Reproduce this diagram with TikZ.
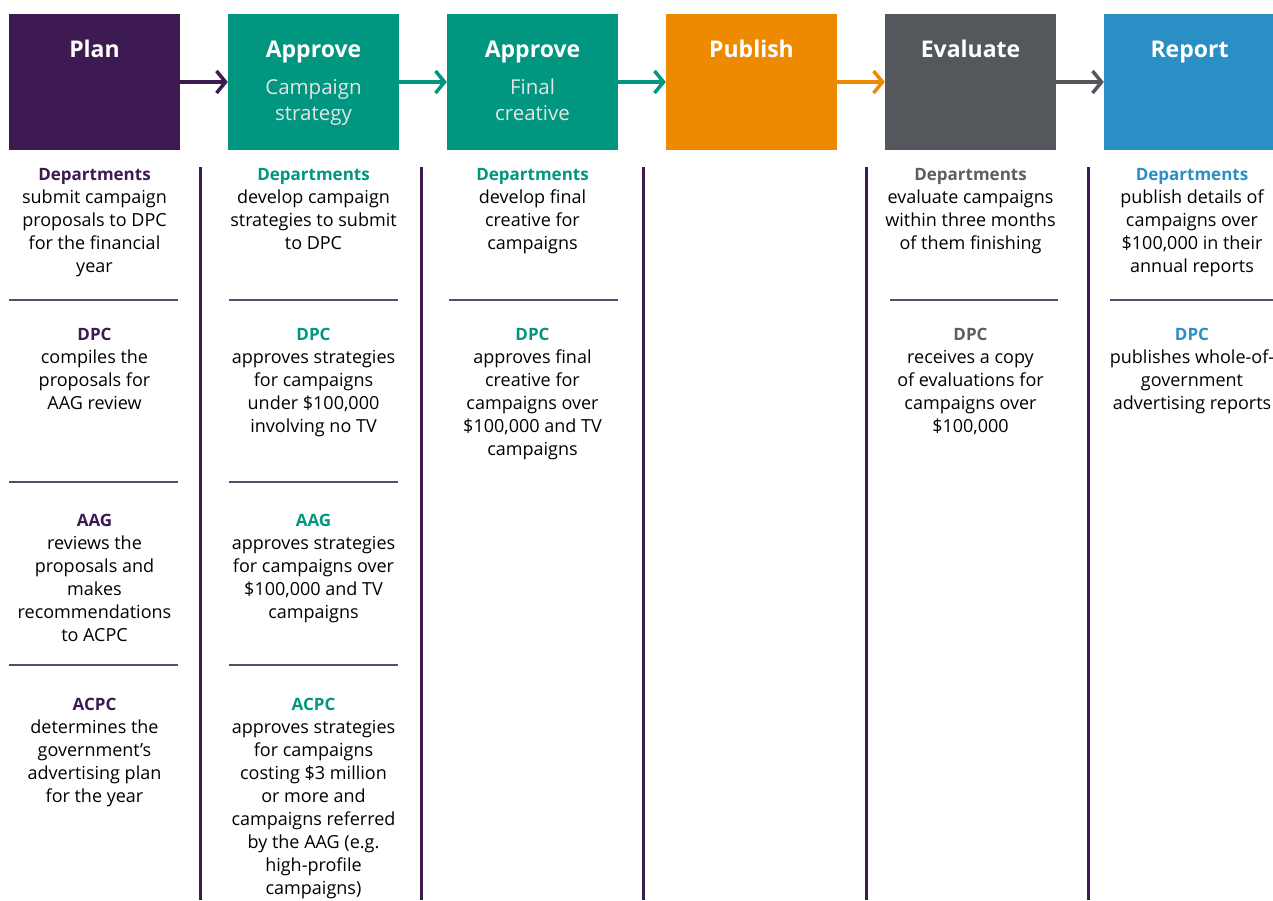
\documentclass[tikz,border=0pt]{standalone}
\usepackage{fontspec}
\setmainfont{Open Sans}
\usetikzlibrary{arrows.meta}

\definecolor{planpurple}{HTML}{3D1A51}
\definecolor{approvegreen}{HTML}{00967F}
\definecolor{publishorange}{HTML}{EE8A00}
\definecolor{evalgrey}{HTML}{54575B}
\definecolor{evaltext}{HTML}{5E5E5E}
\definecolor{reportblue}{HTML}{2A8FC4}
\definecolor{rulepurple}{HTML}{5A4A6C}

\newcommand{\head}[2]{{\color{#1}\fontsize{17}{23}\selectfont\bfseries #2}}

\tikzset{
  stage/.style={minimum width=171pt, minimum height=136pt, inner sep=0pt},
  stagetitle/.style={text=white, inner sep=0pt, anchor=base, font=\fontsize{23}{26}\selectfont\bfseries},
  stagesub/.style={text=white!90!black, inner sep=0pt, align=center, font=\fontsize{20.5}{26}\selectfont},
  flow/.style={line width=3.5pt, -{Straight Barb[length=9pt,width=22pt]}},
  note/.style={align=center, anchor=north, inner sep=0pt, font=\fontsize{18}{23}\selectfont},
  divider/.style={planpurple, line width=3pt},
  sectionrule/.style={rulepurple, line width=1.8pt},
}

\begin{document}
\begin{tikzpicture}[x=1pt,y=-1pt]
\useasboundingbox (0,0) rectangle (1273,900);

% stage boxes
\node[stage, fill=planpurple] (plan) at (94.5,82) {};
\node[stage, fill=approvegreen] (strategy) at (313.5,82) {};
\node[stage, fill=approvegreen] (creative) at (532.5,82) {};
\node[stage, fill=publishorange] (publish) at (751.5,82) {};
\node[stage, fill=evalgrey] (evaluate) at (970.5,82) {};
\node[stage, fill=reportblue] (report) at (1189.5,82) {};

% stage titles
\node[stagetitle] (plantitle) at (94.5,57.5) {Plan};
\node[stagetitle] (strategytitle) at (313.5,57.5) {Approve};
\node[stagesub, anchor=north] (strategysub) at (313.5,79) {Campaign\\strategy};
\node[stagetitle] (creativetitle) at (532.5,57.5) {Approve};
\node[stagesub, anchor=north] (creativesub) at (532.5,79) {Final\\creative};
\node[stagetitle] (publishtitle) at (751.5,57.5) {Publish};
\node[stagetitle] (evaluatetitle) at (970.5,57.5) {Evaluate};
\node[stagetitle] (reporttitle) at (1189.5,57.5) {Report};

% flow arrows
\draw[flow, planpurple] (plan.east) -- (strategy.west);
\draw[flow, approvegreen] (strategy.east) -- (creative.west);
\draw[flow, approvegreen] (creative.east) -- (publish.west);
\draw[flow, publishorange] (publish.east) -- (evaluate.west);
\draw[flow, evalgrey] (evaluate.east) -- (report.west);

% column dividers
\draw[divider] (200,167) -- (200,900);
\draw[divider] (421,167) -- (421,900);
\draw[divider] (643,167) -- (643,900);
\draw[divider] (866,167) -- (866,900);
\draw[divider] (1088,167) -- (1088,900);

% section rules
\draw[sectionrule] (9,300) -- (178,300);
\draw[sectionrule] (9,482) -- (178,482);
\draw[sectionrule] (9,665) -- (178,665);
\draw[sectionrule] (229,300) -- (398,300);
\draw[sectionrule] (229,482) -- (398,482);
\draw[sectionrule] (229,665) -- (398,665);
\draw[sectionrule] (449,300) -- (618,300);
\draw[sectionrule] (890,300) -- (1058,300);
\draw[sectionrule] (1110,300) -- (1273,300);

% plan column
\node[note] (plandept) at (94.5,168.5) {\head{planpurple}{Departments}\\submit campaign\\proposals to DPC\\for the financial\\year};
\node[note] (plandpc) at (94.5,327.5) {\head{planpurple}{DPC}\\compiles the\\proposals for\\AAG review};
\node[note] (planaag) at (94.5,513.5) {\head{planpurple}{AAG}\\reviews the\\proposals and\\makes\\recommendations\\to ACPC};
\node[note] (planacpc) at (94.5,697.5) {\head{planpurple}{ACPC}\\determines the\\government’s\\advertising plan\\for the year};

% strategy column
\node[note] (strategydept) at (313.5,168.5) {\head{approvegreen}{Departments}\\develop campaign\\strategies to submit\\to DPC};
\node[note] (strategydpc) at (313.5,327.5) {\head{approvegreen}{DPC}\\approves strategies\\for campaigns\\under \$100,000\\involving no TV};
\node[note] (strategyaag) at (313.5,513.5) {\head{approvegreen}{AAG}\\approves strategies\\for campaigns over\\\$100,000 and TV\\campaigns};
\node[note] (strategyacpc) at (313.5,697.5) {\head{approvegreen}{ACPC}\\approves strategies\\for campaigns\\costing \$3 million\\or more and\\campaigns referred\\by the AAG (e.g.\\high-profile\\campaigns)};

% creative column
\node[note] (creativedept) at (532.5,168.5) {\head{approvegreen}{Departments}\\develop final\\creative for\\campaigns};
\node[note] (creativedpc) at (532.5,327.5) {\head{approvegreen}{DPC}\\approves final\\creative for\\campaigns over\\\$100,000 and TV\\campaigns};

% evaluate column
\node[note] (evaluatedept) at (970.5,168.5) {\head{evaltext}{Departments}\\evaluate campaigns\\within three months\\of them finishing};
\node[note] (evaluatedpc) at (970.5,327.5) {\head{evaltext}{DPC}\\receives a copy\\of evaluations for\\campaigns over\\\$100,000};

% report column
\node[note] (reportdept) at (1192,168.5) {\head{reportblue}{Departments}\\publish details of\\campaigns over\\\$100,000 in their\\annual reports};
\node[note] (reportdpc) at (1192,327.5) {\head{reportblue}{DPC}\\publishes whole-of-\\government\\advertising reports};
\end{tikzpicture}
\end{document}
